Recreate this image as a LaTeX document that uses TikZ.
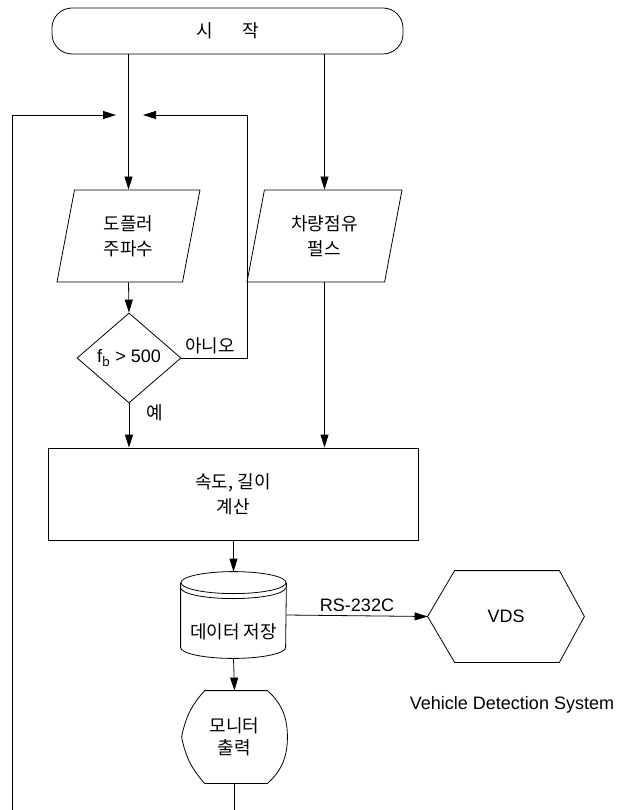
\documentclass[tikz,border=0pt]{standalone}
\usepackage{fontspec}
\setmainfont{Liberation Sans}
\newfontfamily\kr{Noto Sans CJK KR}
\usetikzlibrary{shapes.geometric, arrows.meta, positioning, calc}

\begin{document}
\begin{tikzpicture}[x=1pt, y=-1pt, line width=0.8pt,
    >={Triangle[length=13pt, width=8pt]},
    every node/.style={font=\fontsize{18}{25}\selectfont, align=center},
    krtext/.style={font=\kr\fontsize{18}{25}\selectfont},
    terminal/.style={krtext, draw, rectangle, rounded corners=20pt, minimum width=351pt, minimum height=46pt},
    iobox/.style={krtext, draw, trapezium, trapezium left angle=68, trapezium right angle=112,
        trapezium stretches body, minimum height=92pt, inner sep=1pt},
    decision/.style={draw, diamond, minimum width=104pt, minimum height=90pt, inner sep=0pt},
    process/.style={krtext, draw, rectangle, minimum width=370pt, minimum height=92pt},
    area/.style 2 args={rectangle, inner sep=0pt, minimum width=#1, minimum height=#2}]
    \useasboundingbox (0,0) rectangle (627,810);

    % Nodes
    \node[terminal] (start) at (227.5,31) {시\hspace{29pt}작};
    \node[iobox, minimum width=143pt] (doppler) at (128.5,236) {도플러\\주파수};
    \node[iobox, minimum width=155pt] (pulse) at (324.5,236) {차량점유\\펄스};
    \node[decision] (check) at (129,358) {f\textsubscript{\kr b} > 500};
    \node[process] (calc) at (233,494) {속도, 길이\\계산};
    \node[area={105pt}{86pt}] (store) at (233.5,615) {};
    \node[krtext] (storetext) at ([yshift=-17pt]store.center) {데이터 저장};
    \node[area={156pt}{91pt}] (vds) at (506,616.5) {VDS};
    \node (vdsname) at (512,705) {Vehicle Detection System};
    \node[area={105pt}{92pt}, font=\kr\fontsize{18}{22}\selectfont] (monitor) at (234.5,737) {모니터\\출력};

    % Loop points
    \coordinate (loopL) at (12,115);
    \coordinate (joinL) at (116,115);
    \coordinate (loopR) at (247,115);
    \coordinate (joinR) at (143,115);
    \coordinate (openL) at (12,810);

    % Database drum
    \draw ($(store.north west)+(0,11)$) -- ($(store.south west)+(0,-11)$)
        arc[start angle=180, end angle=0, x radius=52.5, y radius=11]
        -- ($(store.north east)+(0,11)$);
    \draw ($(store.north)+(0,11)$) ellipse [x radius=52.5, y radius=11];
    \draw ($(store.north west)+(0,16)$) arc[start angle=180, end angle=0, x radius=52.5, y radius=11];

    % Hexagon
    \draw (vds.west) -- ($(vds.north west)+(27,0)$) -- ($(vds.north east)+(-25,0)$) -- (vds.east)
        -- ($(vds.south east)+(-25,0)$) -- ($(vds.south west)+(27,0)$) -- cycle;

    % Display
    \draw ($(monitor.north west)+(23,0)$) -- ($(monitor.north east)+(-20,0)$)
        .. controls +(16,14) and +(0,-17) .. (monitor.east)
        .. controls +(0,17) and +(16,-14) .. ($(monitor.south east)+(-20,0)$)
        -- ($(monitor.south west)+(23,0)$) to[bend left=15] (monitor.west) to[bend left=15] cycle;

    % Connectors
    \draw[->] (start.south -| doppler.north) -- (doppler.north);
    \draw[->] (start.south -| pulse.north) -- (pulse.north);
    \draw[->] (doppler.south) -- (check.north);
    \draw[->] (check.south) -- node[krtext, pos=0.22, right=14pt] {예} (check.south |- calc.north);
    \draw[->] (check.east) -| node[krtext, pos=0.22, above] {아니오} (loopR) -- (joinR);
    \draw[->] (openL) -- (loopL) -- (joinL);
    \draw[->] (pulse.south) -- (pulse.south |- calc.north);
    \draw[->] (calc.south -| store.north) -- (store.north);
    \draw[->] (store.east) -- node[above] {RS-232C} (vds.west);
    \draw[->] (store.south) -- (monitor.north);
    \draw (monitor.south) -- (monitor.south |- openL);
\end{tikzpicture}
\end{document}
